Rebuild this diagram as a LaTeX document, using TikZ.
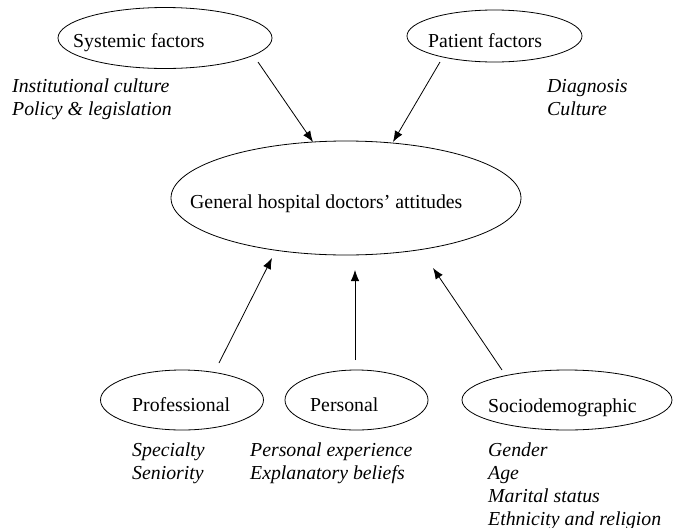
\documentclass[tikz,border=0pt]{standalone}
\usepackage{fontspec}
\setmainfont{Liberation Serif}
\usetikzlibrary{arrows.meta,shapes.geometric}
\begin{document}
\begin{tikzpicture}[x=1pt,y=-1pt,
  ell/.style={draw,ellipse,line width=0.8pt,inner sep=0pt},
  lbl/.style={font=\fontsize{19.8}{23}\selectfont,inner sep=0pt,anchor=base west},
  itl/.style={font=\fontsize{19.8}{23}\selectfont\itshape,inner sep=0pt,anchor=base west},
  arr/.style={-{Latex[length=11pt,width=8.5pt]},line width=0.8pt}]
\useasboundingbox (0,0) rectangle (673,528);
% ellipses
\node[ell,minimum width=214pt,minimum height=61pt] (sys) at (165,38) {};
\node[ell,minimum width=175pt,minimum height=52pt] (pat) at (494.5,36) {};
\node[ell,minimum width=350pt,minimum height=114pt] (main) at (346,198) {};
\node[ell,minimum width=163pt,minimum height=60pt] (prof) at (182,400) {};
\node[ell,minimum width=143pt,minimum height=60pt] (pers) at (356.5,400) {};
\node[ell,minimum width=210pt,minimum height=60pt] (socio) at (567,400) {};
% ellipse labels
\node[lbl] (tsys) at (73,47) {Systemic factors};
\node[lbl] (tpat) at (428,47) {Patient factors};
\node[lbl] (tmain) at (190,208) {General hospital doctors’ attitudes};
\node[lbl] (tprof) at (132,411) {Professional};
\node[lbl] (tpers) at (310,411) {Personal};
\node[lbl] (tsocio) at (488,412) {Sociodemographic};
% italic lists
\node[itl] (i1) at (12,92) {Institutional culture};
\node[itl] (i2) at (12,115) {Policy \& legislation};
\node[itl] (d1) at (547,92) {Diagnosis};
\node[itl] (d2) at (547,115) {Culture};
\node[itl] (s1) at (132,456) {Specialty};
\node[itl] (s2) at (132,479) {Seniority};
\node[itl] (p1) at (250,456) {Personal experience};
\node[itl] (p2) at (250,479) {Explanatory beliefs};
\node[itl] (g1) at (488,456) {Gender};
\node[itl] (g2) at (488,479) {Age};
\node[itl] (g3) at (488,502) {Marital status};
\node[itl] (g4) at (488,525) {Ethnicity and religion};
% arrow end points
\coordinate (a1s) at (258,62);  \coordinate (a1e) at (313,142);
\coordinate (a2s) at (440,62);  \coordinate (a2e) at (393,142);
\coordinate (a3s) at (219,363); \coordinate (a3e) at (272,258);
\coordinate (a4s) at (355,360); \coordinate (a4e) at (355,270);
\coordinate (a5s) at (502,370); \coordinate (a5e) at (433,268);
\draw[arr] (a1s) -- (a1e);
\draw[arr] (a2s) -- (a2e);
\draw[arr] (a3s) -- (a3e);
\draw[arr] (a4s) -- (a4e);
\draw[arr] (a5s) -- (a5e);
\end{tikzpicture}
\end{document}
